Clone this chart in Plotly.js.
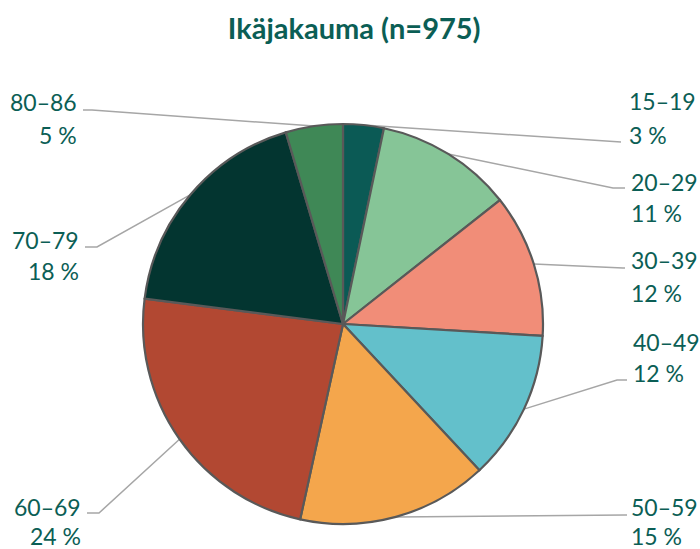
<!DOCTYPE html>
<html>
<head>
<meta charset="utf-8">
<script src="https://cdn.plot.ly/plotly-3.0.1.min.js"></script>
<style>html,body{margin:0;padding:0;background:#fff;}#chart{width:700px;height:549px;}</style>
</head>
<body>
<div id="chart"></div>
<script>
// ---- data ----
const categories = ["15–19", "20–29", "30–39", "40–49", "50–59", "60–69", "70–79", "80–86"];
const counts = [32, 108, 113, 118, 150, 230, 179, 45];
const percentLabels = ["3 %", "11 %", "12 %", "12 %", "15 %", "24 %", "18 %", "5 %"];
const colors = ["#0b5a55", "#86c597", "#f18d78", "#63c0cb", "#f4a64c", "#b24832", "#033530", "#3f8856"];

// ---- layout constants (pixels) ----
const W = 700, H = 549;
const CX = 343, CY = 324, R = 200;
const textColor = "#0b5e55";
// label placement: side, text x, first-line y, second-line y, leader elbow and end
const labelPos = [
  {side: "r", x: 627, y1: 101, y2: 135, ex: 621, ey: 142, sx: 621},
  {side: "r", x: 629, y1: 182, y2: 213, ex: 613, ey: 188, sx: 625},
  {side: "r", x: 629, y1: 260, y2: 293, ex: 623, ey: 268, sx: 625},
  {side: "r", x: 631, y1: 342, y2: 373, ex: 617, ey: 380, sx: 627},
  {side: "r", x: 629, y1: 507, y2: 536, ex: 625, ey: 515, sx: 627},
  {side: "l", x: 83, y1: 507, y2: 536, ex: 99, ey: 513, sx: 87},
  {side: "l", x: 81, y1: 240, y2: 271, ex: 97, ey: 247, sx: 85},
  {side: "l", x: 79, y1: 102, y2: 135, ex: 92, ey: 110, sx: 83}
];

const px = x => x / W;
const py = y => 1 - y / H;

const total = counts.reduce((a, b) => a + b, 0);
const shapes = [];
const annotations = [];
let cum = 0;
counts.forEach((v, i) => {
  const mid = (cum + v / 2) / total * 2 * Math.PI;
  cum += v;
  const ax = CX + R * Math.sin(mid);
  const ay = CY - R * Math.cos(mid);
  const p = labelPos[i];
  shapes.push({
    type: "path", xref: "paper", yref: "paper",
    path: `M ${px(ax)} ${py(ay)} L ${px(p.ex)} ${py(p.ey)} L ${px(p.sx)} ${py(p.ey)}`,
    line: {color: "#a6a6a6", width: 1.5}, layer: "below"
  });
  const xa = p.side === "r" ? "left" : "right";
  annotations.push({
    xref: "paper", yref: "paper", x: px(p.x), y: py(p.y1), xanchor: xa, yanchor: "middle",
    text: categories[i], showarrow: false,
    font: {family: "Lato, sans-serif", size: 23, color: textColor}
  });
  annotations.push({
    xref: "paper", yref: "paper", x: px(p.x), y: py(p.y2), xanchor: xa, yanchor: "middle",
    text: percentLabels[i], showarrow: false,
    font: {family: "Lato, sans-serif", size: 23, color: textColor}
  });
});

const trace = {
  type: "pie",
  labels: categories,
  values: counts,
  sort: false,
  direction: "clockwise",
  rotation: 0,
  marker: {colors: colors, line: {color: "#595959", width: 2.2}},
  textinfo: "none",
  hoverinfo: "label+percent",
  showlegend: false,
  domain: {x: [(CX - R) / W, (CX + R) / W], y: [1 - (CY + R) / H, 1 - (CY - R) / H]}
};

const layout = {
  width: W, height: H,
  margin: {l: 0, r: 0, t: 0, b: 0},
  paper_bgcolor: "#ffffff",
  title: {
    text: "<b>Ikäjakauma (n=975)</b>",
    x: 0.506, xanchor: "center", y: 1 - 29 / H, yanchor: "middle",
    font: {family: "Lato, sans-serif", size: 29, color: textColor}
  },
  shapes: shapes,
  annotations: annotations
};

Plotly.newPlot("chart", [trace], layout, {displayModeBar: false, staticPlot: true});
</script>
</body>
</html>
